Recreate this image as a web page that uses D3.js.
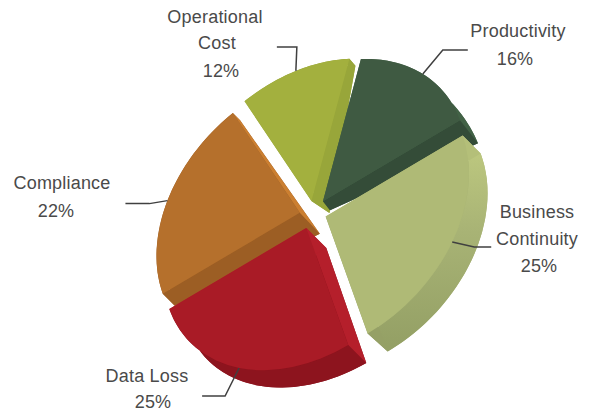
<!DOCTYPE html>
<html>
<head>
<meta charset="utf-8">
<script src="https://cdn.jsdelivr.net/npm/d3@7"></script>
<style>
    html, body { margin: 0; padding: 0; background: #fff; }
    text { font-family: "Liberation Sans", Arial, sans-serif; font-size: 18px; letter-spacing: 0.2px; fill: #4a4a4a; text-anchor: middle; }
</style>
</head>
<body>
<svg id="chart" width="594" height="412"></svg>
<script>
// values, clockwise from the gap between Operational Cost and Productivity
const categories = ["Productivity", "Business Continuity", "Data Loss", "Compliance", "Operational Cost"];
const shares = [16, 25, 25, 22, 12];
const labelLines = [["Productivity"], ["Business", "Continuity"], ["Data Loss"], ["Compliance"], ["Operational", "Cost"]];

const topColors = ["#3f5a42", "#afba76", "#a91b26", "#b5702c", "#a3b03e"];
const rimColors = ["#426246", "url(#rimLight)", "#8d141e", "#9c5e24", "#98a63a"];
const startWallColors = ["#426246", "#b4bf79", "#b51f2b", "#9c5e24", "#98a63a"];
const endWallColors = ["#344c38", "#95a066", "#b51f2b", "#cb7f31", "#98a63a"];

// how far each corner of a slice sinks: start of arc, end of arc, apex
const depthStart = [[1, 1], [18, 18], [18, 18], [12, 12], [1, 1]];
const depthEnd = [[18, 23], [20, 18], [18, 18], [7, 7], [6, 7]];
const depthApex = [[7, 9], [18, 18], [20, 20], [20, 21], [18, 12]];

// leader elbow relative to the slice's mid arc, then the free end
const leaderElbow = [[20, -24], [22, 5], [-14, 28], [-18, 3], [1, -24]];
const leaderEnd = [[45, -24], [39, 5], [-37, 28], [-42, 3], [-19, -24]];

// label anchor per line, the reference does not centre its lines exactly
const labelX = [[518, 515], [537, 537, 539], [147, 153], [62, 56], [215, 217, 221]];
const labelY = [[37, 65], [218, 245, 272], [382, 408], [189, 217], [23, 49, 77]];

const drawOrder = [4, 0, 3, 1, 2];

// the tilted disc: unit circle mapped through two screen vectors
const center = [313, 214];
const axisU = [137, -81];
const axisV = [42, 117];
const explode = 0.1;

var svg = d3.select("#chart");

var defs = svg.append("defs");
var grad = defs.append("linearGradient")
    .attr("id", "rimLight")
    .attr("gradientUnits", "userSpaceOnUse")
    .attr("x1", 0).attr("y1", 140)
    .attr("x2", 0).attr("y2", 345);
grad.append("stop").attr("offset", "0%").attr("stop-color", "#bfca80");
grad.append("stop").attr("offset", "45%").attr("stop-color", "#a8b375");
grad.append("stop").attr("offset", "100%").attr("stop-color", "#94a065");

var pie = d3.pie()
    .sort(null)
    .startAngle(32.4 * Math.PI / 180)
    .endAngle((32.4 + 360) * Math.PI / 180);

var arc = d3.arc().innerRadius(0).outerRadius(1);

function unit(a) { return [Math.sin(a), -Math.cos(a)]; }
function apply(m, q) { return [m[0][0] * q[0] + m[1][0] * q[1], m[0][1] * q[0] + m[1][1] * q[1]]; }
function matrixAttr(m, t) { return "matrix(" + [m[0][0], m[0][1], m[1][0], m[1][1], t[0], t[1]].join(",") + ")"; }

var slices = pie(shares).map(function(d, i) {
    var M = [axisU, axisV];
    var mid = apply(M, unit((d.startAngle + d.endAngle) / 2));
    var top = [center[0] + explode * mid[0], center[1] + explode * mid[1]];
    var qs = unit(d.startAngle), qe = unit(d.endAngle);
    var ds = [depthStart[i][0] - depthApex[i][0], depthStart[i][1] - depthApex[i][1]];
    var de = [depthEnd[i][0] - depthApex[i][0], depthEnd[i][1] - depthApex[i][1]];
    // bottom face: the same sector through a slightly different map
    var det = qs[0] * qe[1] - qe[0] * qs[1];
    var col0 = [(ds[0] * qe[1] - de[0] * qs[1]) / det, (ds[1] * qe[1] - de[1] * qs[1]) / det];
    var col1 = [(de[0] * qs[0] - ds[0] * qe[0]) / det, (de[1] * qs[0] - ds[1] * qe[0]) / det];
    var B = [[M[0][0] + col0[0], M[0][1] + col0[1]], [M[1][0] + col1[0], M[1][1] + col1[1]]];
    var bottom = [top[0] + depthApex[i][0], top[1] + depthApex[i][1]];
    return {d: d, i: i, M: M, B: B, top: top, bottom: bottom, mid: [top[0] + mid[0], top[1] + mid[1]]};
});

function topPoint(s, a) { var p = apply(s.M, unit(a)); return [s.top[0] + p[0], s.top[1] + p[1]]; }
function bottomPoint(s, a) { var p = apply(s.B, unit(a)); return [s.bottom[0] + p[0], s.bottom[1] + p[1]]; }

var poly = d3.line().curve(d3.curveLinearClosed);

drawOrder.forEach(function(index) {
    var s = slices[index];
    var g = svg.append("g").attr("class", "slice").attr("id", "slice_" + index);
    var a0 = s.d.startAngle, a1 = s.d.endAngle;

    g.append("path")
        .attr("d", arc(s.d))
        .attr("transform", matrixAttr(s.B, s.bottom))
        .attr("fill", rimColors[index] == "url(#rimLight)" ? "#a8b375" : rimColors[index]);

    var steps = d3.range(0, 41).map(k => a0 + (a1 - a0) * k / 40);
    g.append("path")
        .attr("d", poly(steps.map(a => topPoint(s, a)).concat(steps.slice().reverse().map(a => bottomPoint(s, a)))))
        .attr("fill", rimColors[index]);

    g.append("path")
        .attr("d", poly([s.top, topPoint(s, a0), bottomPoint(s, a0), s.bottom]))
        .attr("fill", startWallColors[index]);

    g.append("path")
        .attr("d", poly([s.top, topPoint(s, a1), bottomPoint(s, a1), s.bottom]))
        .attr("fill", endWallColors[index]);

    g.append("path")
        .attr("d", arc(s.d))
        .attr("transform", matrixAttr(s.M, s.top))
        .attr("fill", topColors[index]);
});

var leader = d3.line();
slices.forEach(function(s) {
    var i = s.i;
    svg.append("path")
        .attr("d", leader([
            s.mid,
            [s.mid[0] + leaderElbow[i][0], s.mid[1] + leaderElbow[i][1]],
            [s.mid[0] + leaderEnd[i][0], s.mid[1] + leaderEnd[i][1]]
        ]))
        .attr("fill", "none")
        .attr("stroke", "#404040")
        .attr("stroke-width", 1.5);

    var lines = labelLines[i].concat([shares[i] + "%"]);
    var label = svg.append("text").attr("class", "label").attr("aria-label", categories[i]);
    lines.forEach(function(line, k) {
        label.append("tspan")
            .attr("x", labelX[i][k])
            .attr("y", labelY[i][k])
            .text(line);
    });
});
</script>
</body>
</html>
